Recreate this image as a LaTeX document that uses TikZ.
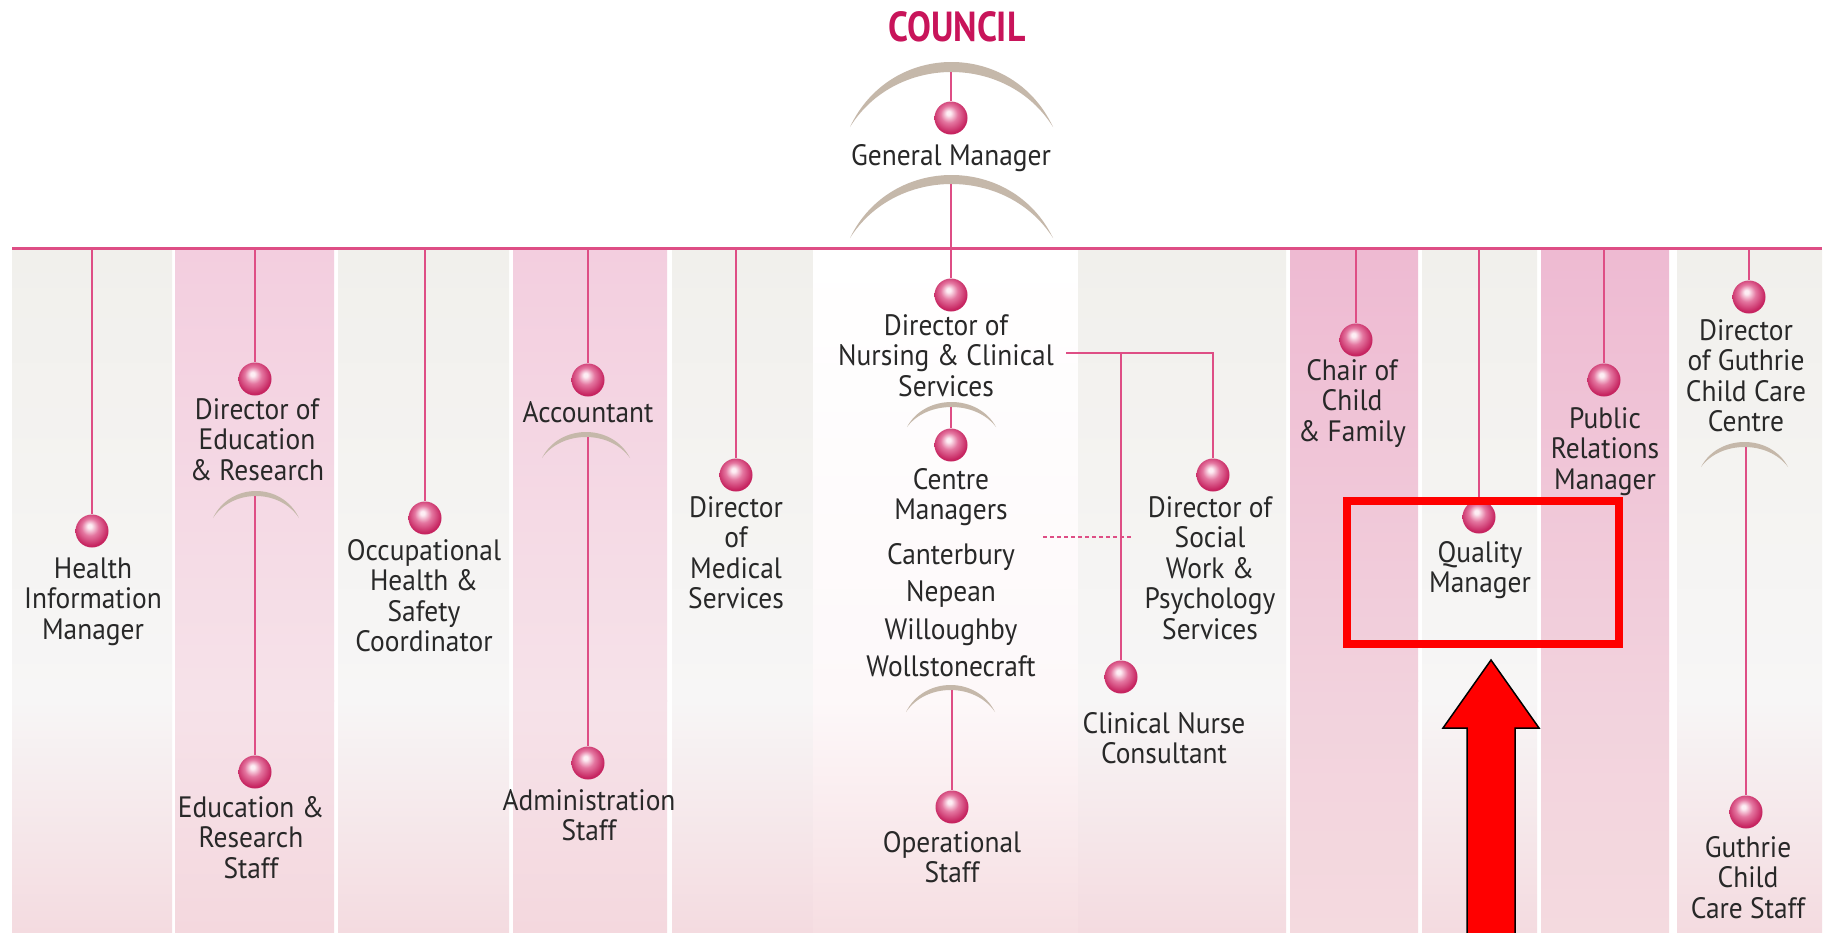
\documentclass[tikz,border=0pt]{standalone}
\usepackage{fontspec}
\setmainfont{PT Sans}
\newfontfamily\lblfont[FakeStretch=0.93]{PT Sans}
\newfontfamily\councilfont[FakeStretch=0.85]{PT Sans}
\definecolor{greyTop}{RGB}{241,240,236}
\definecolor{greyMid}{RGB}{247,246,246}
\definecolor{greyBot}{RGB}{244,219,224}
\definecolor{pinkTop}{RGB}{243,206,223}
\definecolor{pinkMid}{RGB}{246,226,233}
\definecolor{pinkBot}{RGB}{244,216,222}
\definecolor{dpinkTop}{RGB}{238,186,210}
\definecolor{dpinkMid}{RGB}{242,210,221}
\definecolor{dpinkBot}{RGB}{244,218,223}
\definecolor{whiteMid}{RGB}{253,248,249}
\definecolor{whiteBot}{RGB}{246,222,226}
\definecolor{linepink}{RGB}{222,78,133}
\definecolor{arcc}{RGB}{197,184,170}
\definecolor{txtgrey}{RGB}{40,40,40}
\definecolor{councilc}{RGB}{200,20,90}
\definecolor{ballhi}{RGB}{253,238,244}
\definecolor{ballmid}{RGB}{228,118,160}
\definecolor{balldark}{RGB}{198,36,96}
\pgfdeclareradialshading{pinkball}{\pgfpoint{-4bp}{8bp}}{color(0bp)=(ballhi); color(3bp)=(ballhi); color(13bp)=(ballmid); color(26bp)=(balldark); color(50bp)=(balldark)}
\newcommand\colstrip[5]{%
  \fill[top color=#3,bottom color=#4] (#1,250) rectangle (#2,701);
  \fill[top color=#4,bottom color=#5] (#1,700) rectangle (#2,932);}
\newcommand\crescent[5]{%
  \fill[arcc] ({#1-#3},#2) .. controls ({#1-0.6*#3},{#2-(#2-#4)/0.75}) and ({#1+0.6*#3},{#2-(#2-#4)/0.75}) .. ({#1+#3},#2)
     .. controls ({#1+0.55*#3},{#2-(#2-#5)/0.75}) and ({#1-0.55*#3},{#2-(#2-#5)/0.75}) .. ({#1-#3},#2) -- cycle;}
\begin{document}
\begin{tikzpicture}[x=1pt,y=-1pt,
  lbl/.style={align=center, inner sep=0pt, text=txtgrey, font=\lblfont\fontsize{29.5}{30.5}\selectfont},
  ball/.style={circle, minimum size=33pt, inner sep=0pt, shading=pinkball},
  conn/.style={draw=linepink, line width=2pt},
  barline/.style={draw=linepink, line width=3pt},
  dashconn/.style={draw=linepink, line width=2pt, dash pattern=on 4pt off 3pt},
  hilite/.style={draw=red, line width=8pt},
  bigarrow/.style={fill=red, draw=black, line width=1.5pt}]
\useasboundingbox (0,0) rectangle (1826,932);
\fill[white] (0,0) rectangle (1826,932);
% columns
\colstrip{12}{172}{greyTop}{greyMid}{greyBot}
\colstrip{175}{334}{pinkTop}{pinkMid}{pinkBot}
\colstrip{338}{509}{greyTop}{greyMid}{greyBot}
\colstrip{513}{667}{pinkTop}{pinkMid}{pinkBot}
\colstrip{672}{813}{greyTop}{greyMid}{greyBot}
\colstrip{813}{1078}{white}{whiteMid}{whiteBot}
\colstrip{1078}{1286}{greyTop}{greyMid}{greyBot}
\colstrip{1290}{1418}{dpinkTop}{dpinkMid}{dpinkBot}
\colstrip{1422}{1537}{greyTop}{greyMid}{greyBot}
\colstrip{1541}{1669}{dpinkTop}{dpinkMid}{dpinkBot}
\colstrip{1677}{1822}{greyTop}{greyMid}{greyBot}
% main bar
\coordinate (bl) at (12,248);
\coordinate (br) at (1822,248);
\draw[barline] (bl) -- (br);
% crescents
\crescent{951.5}{127}{101.5}{62}{72}
\crescent{951.5}{238}{101.5}{175}{184}
\crescent{256}{518}{43}{491}{496}
\crescent{586}{458}{44}{432}{437}
\crescent{951.5}{427}{44.5}{402}{407}
\crescent{950.5}{712}{44.5}{685}{690}
\crescent{1744.5}{467}{43.5}{442}{447}
% title
\node[inner sep=0pt, text=councilc, font=\councilfont\bfseries\fontsize{42}{44}\selectfont] (council) at (957,27) {COUNCIL};
% balls
\node[ball] (gmb) at (951,118) {};
\node[ball] (hb) at (92,531) {};
\node[ball] (deb) at (255,379) {};
\node[ball] (ersb) at (255,772) {};
\node[ball] (ohb) at (425,518) {};
\node[ball] (accb) at (588,380) {};
\node[ball] (adb) at (588,763) {};
\node[ball] (dmb) at (736,475) {};
\node[ball] (dnb) at (951,295) {};
\node[ball] (cmb) at (951,445) {};
\node[ball] (osb) at (952,807) {};
\node[ball] (dswb) at (1213,475) {};
\node[ball] (cncb) at (1121,677) {};
\node[ball] (ccb) at (1356,340) {};
\node[ball] (qmb) at (1479,517) {};
\node[ball] (prb) at (1604,380) {};
\node[ball] (dgb) at (1749,297) {};
\node[ball] (gsb) at (1746,812) {};
% labels
\node[lbl] (gm) at (951,158) {General Manager};
\node[lbl] (hl) at (93,601.5) {Health\\Information\\Manager};
\node[lbl] (de) at (257,439.5) {Director of\\Education\\\& Research};
\node[lbl] (ers) at (251,837.5) {Education \&\\Research\\Staff};
\node[lbl] (oh) at (424,595.75) {Occupational\\Health \&\\Safety\\Coordinator};
\node[lbl] (acc) at (588,412) {Accountant};
\node[lbl] (ad) at (589,815.25) {Administration\\Staff};
\node[lbl] (dm) at (736,552.75) {Director\\of\\Medical\\Services};
\node[lbl] (dn) at (946,355.5) {Director of\\Nursing \& Clinical\\Services};
\node[lbl] (cm) at (951,572.5) {Centre\\Managers\\[14pt]Canterbury\\[7pt]Nepean\\[7pt]Willoughby\\[7pt]Wollstonecraft};
\node[lbl] (os) at (952,857.25) {Operational\\Staff};
\node[lbl] (dsw) at (1210,568) {Director of\\Social\\Work \&\\Psychology\\Services};
\node[lbl] (cnc) at (1164,738.25) {Clinical Nurse\\Consultant};
\node[lbl] (cc) at (1352,403.5) {Chair of\\Child\\\& Family};
\node[lbl] (qm) at (1480,570.25) {Quality\\Manager};
\node[lbl] (pr) at (1605,451.5) {Public\\Relations\\Manager};
\node[lbl] (dg) at (1746,375.75) {Director\\of Guthrie\\Child Care\\Centre};
\node[lbl] (gs) at (1748,877.5) {Guthrie\\Child\\Care Staff};
% attachment points
\coordinate (t1) at (92,248);
\coordinate (t2) at (255,248);
\coordinate (t3) at (425,248);
\coordinate (t4) at (588,248);
\coordinate (t5) at (736,248);
\coordinate (t7) at (1356,248);
\coordinate (t8) at (1479,248);
\coordinate (t9) at (1604,248);
\coordinate (t10) at (1749,248);
\coordinate (k1) at (951,72);
\coordinate (k2) at (951,184);
\coordinate (k3) at (255,496);
\coordinate (k4) at (588,437);
\coordinate (k5) at (951,407);
\coordinate (k6) at (952,690);
\coordinate (k7) at (1746,447);
\coordinate (dnr) at (1066,353);
\coordinate (jn) at (1121,353);
\coordinate (dl1) at (1043,537);
\coordinate (dl2) at (1132,537);
% connectors
\draw[conn] (k1) -- (gmb.north);
\draw[conn] (k2) -- (dnb.north);
\draw[conn] (t1) -- (hb.north);
\draw[conn] (t2) -- (deb.north);
\draw[conn] (k3) -- (ersb.north);
\draw[conn] (t3) -- (ohb.north);
\draw[conn] (t4) -- (accb.north);
\draw[conn] (k4) -- (adb.north);
\draw[conn] (t5) -- (dmb.north);
\draw[conn] (k5) -- (cmb.north);
\draw[conn] (k6) -- (osb.north);
\draw[conn] (dnr) -| (dswb.north);
\draw[conn] (jn) -- (cncb.north);
\draw[conn] (t7) -- (ccb.north);
\draw[conn] (t8) -- (qmb.north);
\draw[conn] (t9) -- (prb.north);
\draw[conn] (t10) -- (dgb.north);
\draw[conn] (k7) -- (gsb.north);
\draw[dashconn] (dl1) -- (dl2);
% highlight
\draw[hilite] (1347,501) rectangle (1619,644);
\draw[bigarrow] (1491,660) -- (1539,728) -- (1515,728) -- (1515,934) -- (1467,934) -- (1467,728) -- (1443,728) -- cycle;
\end{tikzpicture}
\end{document}
